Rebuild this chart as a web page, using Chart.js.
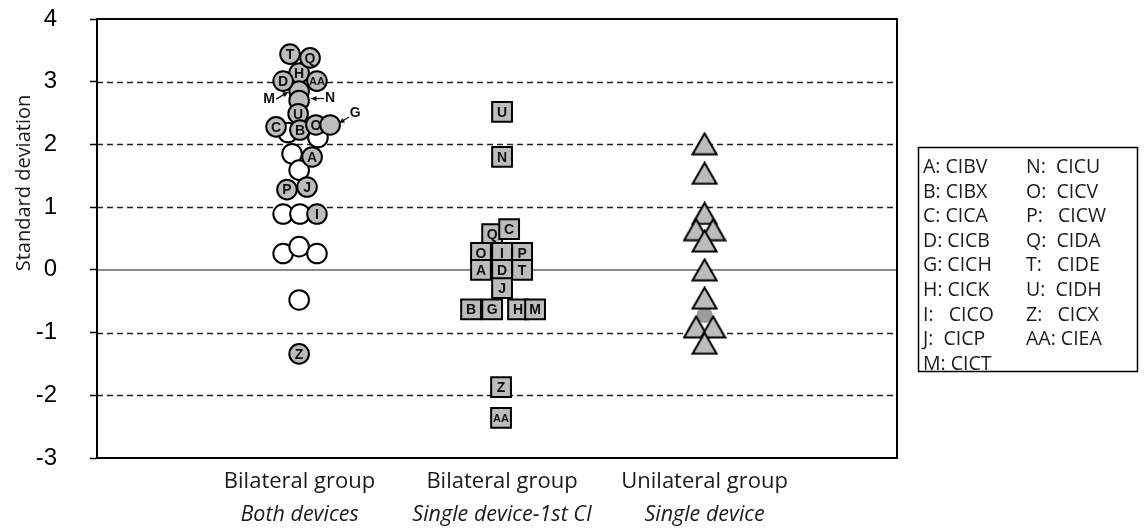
<!DOCTYPE html>
<html>
<head>
<meta charset="utf-8">
<script src="https://cdn.jsdelivr.net/npm/chart.js@4"></script>
<style>
  html, body { margin: 0; padding: 0; background: #fff; }
  #wrap { width: 1144px; height: 529px; position: relative; }
</style>
</head>
<body>
<div id="wrap"><canvas id="c" width="1144" height="529"></canvas></div>
<script>
// ---- data -------------------------------------------------------------
const groupTitles = ['Bilateral group', 'Bilateral group', 'Unilateral group'];
const groupSubtitles = ['Both devices', 'Single device-1st CI', 'Single device'];
const groupX = [1, 2, 3];
const yTicks = [-3, -2, -1, 0, 1, 2, 3, 4];
const dashedLevels = [-2, -1, 1, 2, 3];

// Bilateral group, both devices: labelled subjects (grey circles)
const bothNames = ['H', 'M', 'N', 'D', 'AA', 'T', 'Q', 'U', 'C', 'B', 'O', 'G', 'A', 'P', 'J', 'I', 'Z'];
const bothX     = [0.998, 0.998, 0.998, 0.919, 1.086, 0.953, 1.052, 0.993, 0.884, 1.002, 1.081, 1.151, 1.062, 0.938, 1.037, 1.086, 0.998];
const bothY     = [3.14, 2.85, 2.70, 3.01, 3.01, 3.44, 3.38, 2.49, 2.28, 2.23, 2.31, 2.31, 1.80, 1.28, 1.32, 0.89, -1.34];
// names shown beside the marker with an arrow instead of inside it
const bothCallouts = ['M', 'N', 'G'];

// Bilateral group, both devices: other subjects (white circles)
const bothOtherX = [0.943, 1.091, 0.963, 0.998, 0.919, 1.002, 0.919, 0.998, 1.086, 0.998];
const bothOtherY = [2.19, 2.11, 1.85, 1.59, 0.89, 0.89, 0.26, 0.37, 0.26, -0.48];

// Bilateral group, single device (1st CI): squares
const firstNames = ['U', 'N', 'Q', 'C', 'O', 'I', 'P', 'A', 'D', 'T', 'J', 'B', 'G', 'H', 'M', 'Z', 'AA'];
const firstX     = [2, 2, 1.951, 2.035, 1.896, 2, 2.099, 1.896, 2, 2.099, 2, 1.847, 1.951, 2.079, 2.163, 1.995, 1.995];
const firstY     = [2.52, 1.80, 0.57, 0.65, 0.27, 0.27, 0.27, 0, 0, 0, -0.29, -0.63, -0.63, -0.63, -0.63, -1.87, -2.36];

// Unilateral group, single device: triangles
const uniX = [3, 3, 3, 2.958, 3.042, 3, 3, 3, 2.958, 3.042, 3];
const uniY = [2.01, 1.54, 0.90, 0.64, 0.64, 0.46, 0, -0.45, -0.91, -0.91, -1.17];
const uniHiddenX = [3];
const uniHiddenY = [-0.72];

// legend key: subject codes
const keyLeft  = ['A: CIBV', 'B: CIBX', 'C: CICA', 'D: CICB', 'G: CICH', 'H: CICK', 'I:   CICO', 'J:  CICP', 'M: CICT'];
const keyRight = ['N:  CICU', 'O:  CICV', 'P:   CICW', 'Q:  CIDA', 'T:   CIDE', 'U:  CIDH', 'Z:   CICX', 'AA: CIEA'];

// ---- helpers ----------------------------------------------------------
const GREY = '#bcbcbc';
const SANS = '"Open Sans", "Noto Sans", sans-serif';
const ARIAL = '"Liberation Sans", Arial, sans-serif';
const pts = (xs, ys) => xs.map((x, i) => ({ x: x, y: ys[i] }));

// triangle marker, centred on its bounding box
function triangleMarker() {
  const w = 27, h = 24;
  const cv = document.createElement('canvas');
  cv.width = w; cv.height = h;
  const g = cv.getContext('2d');
  g.beginPath();
  g.moveTo(w / 2, 1.5);
  g.lineTo(w - 1.5, h - 1.5);
  g.lineTo(1.5, h - 1.5);
  g.closePath();
  g.fillStyle = GREY;
  g.fill();
  g.lineWidth = 2;
  g.strokeStyle = '#000';
  g.stroke();
  return cv;
}

// ---- plugin: grid, frame, marker letters, category labels, key ------------
const decor = {
  id: 'decor',
  beforeDatasetsDraw(chart) {
    const { ctx, chartArea: a, scales: { y } } = chart;
    ctx.save();
    ctx.setLineDash([6, 4]);
    ctx.strokeStyle = '#222';
    ctx.lineWidth = 1.5;
    dashedLevels.forEach(v => {
      const py = Math.round(y.getPixelForValue(v)) + 0.5;
      ctx.beginPath(); ctx.moveTo(a.left, py); ctx.lineTo(a.right, py); ctx.stroke();
    });
    ctx.setLineDash([]);
    ctx.strokeStyle = '#8a8a8a';
    ctx.lineWidth = 2;
    const z = Math.round(y.getPixelForValue(0));
    ctx.beginPath(); ctx.moveTo(a.left, z); ctx.lineTo(a.right, z); ctx.stroke();
    ctx.restore();
  },
  afterDatasetsDraw(chart) {
    const { ctx } = chart;
    ctx.save();
    ctx.fillStyle = '#111';
    ctx.textAlign = 'center';
    ctx.textBaseline = 'middle';
    chart.data.datasets.forEach((ds, di) => {
      if (!ds.names) return;
      const meta = chart.getDatasetMeta(di);
      meta.data.forEach((el, i) => {
        const name = ds.names[i];
        if (ds.callouts && ds.callouts.includes(name)) return;
        ctx.font = (name.length > 1 ? 'bold 11px ' : 'bold 14px ') + ARIAL;
        ctx.fillText(name, el.x, el.y + 1);
      });
      if (ds.callouts) {
        ctx.font = 'bold 14px ' + ARIAL;
        ctx.strokeStyle = '#111';
        ctx.lineWidth = 1.2;
        ds.callouts.forEach(name => {
          const el = meta.data[ds.names.indexOf(name)];
          let t, from, to;
          if (name === 'M') { t = [-30, 8]; from = [-23, 8]; to = [-11, 1]; }
          else if (name === 'N') { t = [31, -2]; from = [25, -2]; to = [12, -2]; }
          else { t = [25, -12]; from = [19, -8]; to = [9, -2]; }
          ctx.fillText(name, el.x + t[0], el.y + t[1]);
          const x1 = el.x + from[0], y1 = el.y + from[1], x2 = el.x + to[0], y2 = el.y + to[1];
          ctx.beginPath(); ctx.moveTo(x1, y1); ctx.lineTo(x2, y2); ctx.stroke();
          const ang = Math.atan2(y2 - y1, x2 - x1);
          ctx.beginPath();
          ctx.moveTo(x2, y2);
          ctx.lineTo(x2 - 6 * Math.cos(ang - 0.45), y2 - 6 * Math.sin(ang - 0.45));
          ctx.lineTo(x2 - 6 * Math.cos(ang + 0.45), y2 - 6 * Math.sin(ang + 0.45));
          ctx.closePath(); ctx.fill();
        });
      }
    });
    ctx.restore();
  },
  afterDraw(chart) {
    const { ctx, chartArea: a, scales: { x } } = chart;
    ctx.save();
    // plot frame
    ctx.strokeStyle = '#000';
    ctx.lineWidth = 2;
    ctx.strokeRect(a.left, a.top, a.right - a.left, a.bottom - a.top);

    // category labels
    ctx.fillStyle = '#1a1a1a';
    ctx.textAlign = 'center';
    ctx.textBaseline = 'alphabetic';
    groupX.forEach((g, i) => {
      const px = x.getPixelForValue(g);
      ctx.font = '22px ' + SANS;
      ctx.fillText(groupTitles[i], px, 488);
      ctx.font = 'italic 21.5px ' + SANS;
      ctx.fillText(groupSubtitles[i], px, 521);
    });

    // y axis title
    ctx.save();
    ctx.translate(30, 183);
    ctx.rotate(-Math.PI / 2);
    ctx.font = '20px ' + SANS;
    ctx.fillText('Standard deviation', 0, 0);
    ctx.restore();

    // subject key
    ctx.lineWidth = 1.5;
    ctx.strokeRect(918.5, 147.5, 219, 224);
    ctx.textAlign = 'left';
    ctx.font = '19.5px ' + SANS;
    keyLeft.forEach((s, i) => ctx.fillText(s, 923, 173 + i * 24.6));
    keyRight.forEach((s, i) => ctx.fillText(s, 1026, 173 + i * 24.6));
    ctx.restore();
  }
};

// ---- chart --------------------------------------------------------------
new Chart(document.getElementById('c'), {
  type: 'scatter',
  data: {
    datasets: [
      { data: pts(bothOtherX, bothOtherY), pointStyle: 'circle', pointRadius: 9.8,
        backgroundColor: '#fff', borderColor: '#000', borderWidth: 2, order: 6 },
      { data: pts(bothX, bothY), names: bothNames, callouts: bothCallouts, pointStyle: 'circle', pointRadius: 9.8,
        backgroundColor: GREY, borderColor: '#000', borderWidth: 2, order: 5 },
      { data: pts(firstX, firstY), names: firstNames, pointStyle: 'rect', pointRadius: 14,
        backgroundColor: GREY, borderColor: '#000', borderWidth: 2, order: 4 },
      { data: pts(uniHiddenX, uniHiddenY), pointStyle: 'circle', pointRadius: 8,
        backgroundColor: '#9d9d9d', borderColor: '#9d9d9d', borderWidth: 0, order: 3 },
      { data: pts(uniX, uniY), pointStyle: triangleMarker(), order: 2 }
    ]
  },
  options: {
    responsive: false,
    devicePixelRatio: 1,
    animation: false,
    events: [],
    layout: { padding: { top: 19, right: 247, bottom: 71, left: 0 } },
    plugins: { legend: { display: false }, tooltip: { enabled: false } },
    scales: {
      x: { type: 'linear', min: 0, max: 3.95, display: false },
      y: {
        min: -3, max: 4,
        afterBuildTicks(s) { s.ticks = yTicks.map(v => ({ value: v })); },
        afterFit(s) { s.width = 97; s.paddingTop = 0; s.paddingBottom = 0; },
        ticks: { color: '#000', padding: 33, font: { family: ARIAL, size: 24 } },
        grid: { drawOnChartArea: false, drawTicks: true, tickLength: 7, tickColor: '#000', tickWidth: 1.5 },
        border: { display: true, color: '#000', width: 2 }
      }
    }
  },
  plugins: [decor]
});
</script>
</body>
</html>
